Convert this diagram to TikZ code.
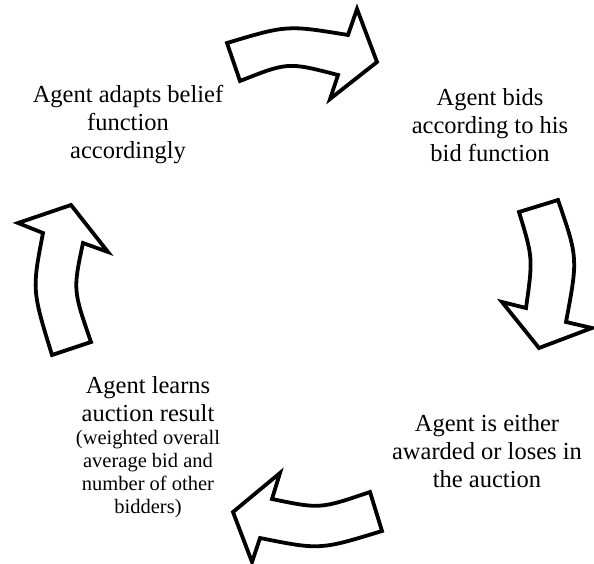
\documentclass[tikz,border=0pt]{standalone}
\usepackage{fontspec}
\setmainfont{Liberation Serif}
\usetikzlibrary{positioning}

\begin{document}
\begin{tikzpicture}[
    x=1pt, y=-1pt,
    step text/.style={align=center, font=\fontsize{24.5}{28}\selectfont, inner sep=0pt},
    small text/.style={align=center, font=\fontsize{20.5}{23}\selectfont, inner sep=0pt},
    block arrow/.style={draw=black, fill=white, line width=3.8pt, line join=miter}
]
\useasboundingbox (0,0) rectangle (594,564);

% Steps of the cycle
\node[step text] (adapt) at (128,125) {Agent adapts belief\\function\\accordingly};
\node[step text] (bids) at (490,125) {Agent bids\\according to his\\bid function};
\node[step text] (award) at (487,451) {Agent is either\\awarded or loses in\\the auction};
\node[step text] (learn) at (148,399) {Agent learns\\auction result};
\node[small text] (learnnote) at (148,474) {(weighted overall\\average bid and\\number of other\\bidders)};

% Block arrows
\draw[block arrow] (227,43) .. controls (287,25) .. (348,35) -- (357,9) -- (377,62)
    -- (330,99) -- (338,75) .. controls (288,62) .. (240,81) -- cycle;
\draw[block arrow] (519,212) -- (558,200) .. controls (578,258) .. (566,322) -- (592,328)
    -- (539,348) -- (502,302) -- (526,308) .. controls (533,258) .. cycle;
\draw[block arrow] (370,492) -- (382,531) .. controls (320,550) .. (260,538) -- (252,562)
    -- (233,512) -- (280,473) -- (272,499) .. controls (320,509) .. cycle;
\draw[block arrow] (52,355) -- (91,342) .. controls (73,290) .. (83,243) -- (108,252)
    -- (71,205) -- (18,223) -- (43,233) .. controls (32,290) .. cycle;

\end{tikzpicture}
\end{document}
